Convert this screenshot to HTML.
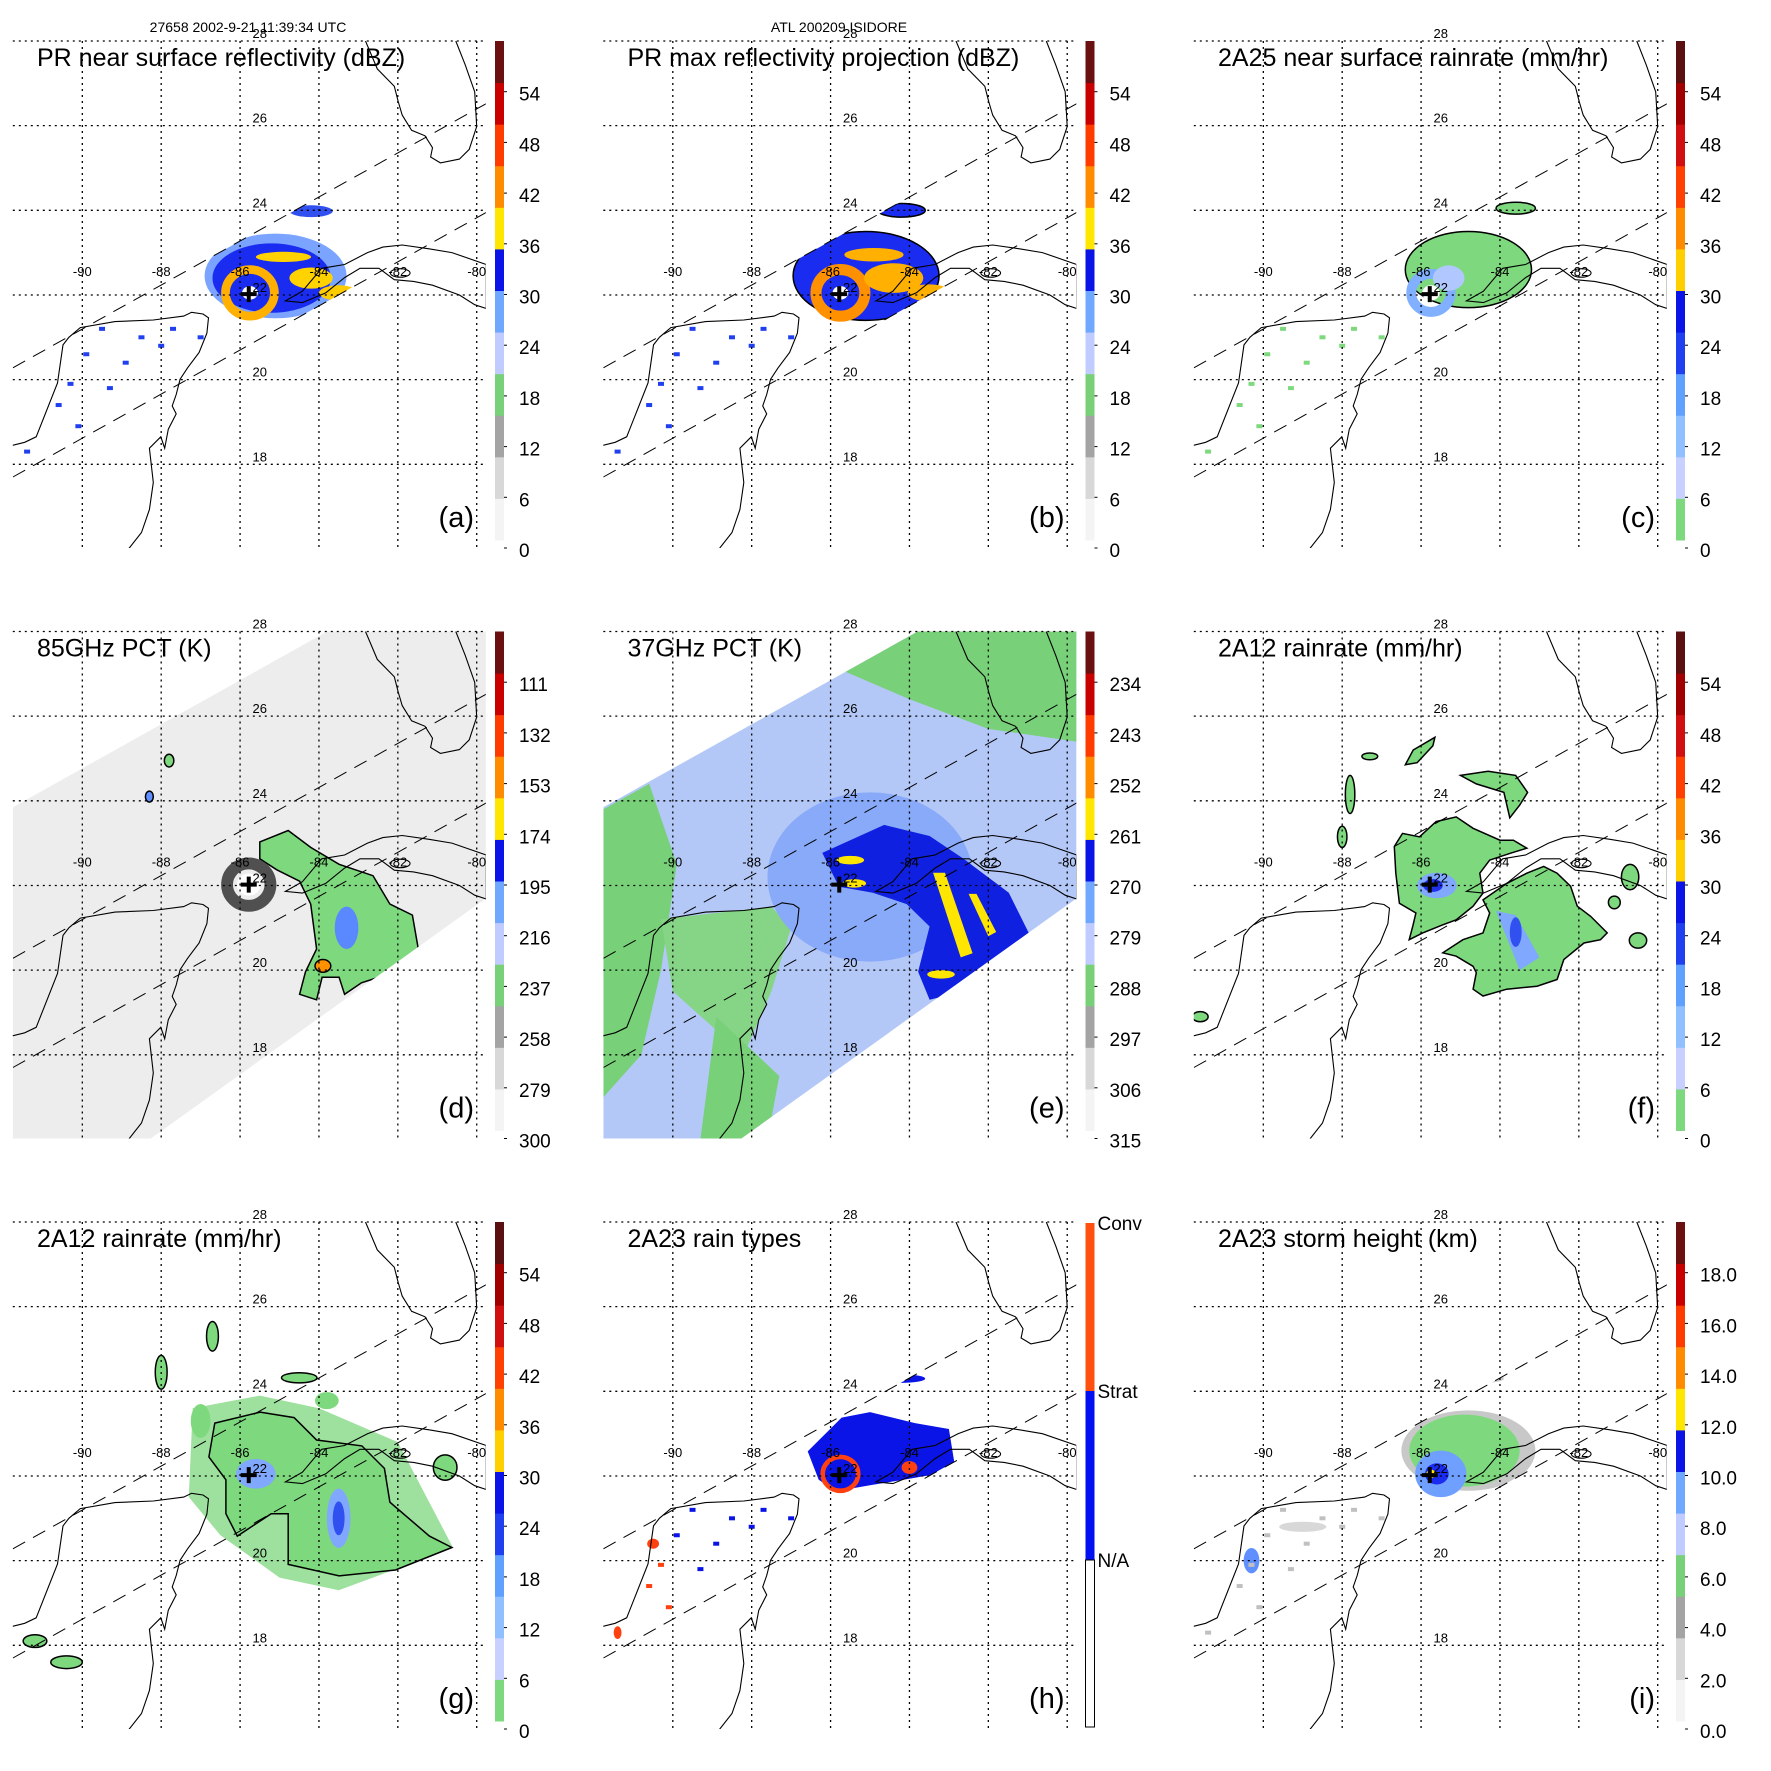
<!DOCTYPE html>
<html><head><meta charset="utf-8"><style>
html,body{margin:0;padding:0;background:#fff;}
svg{display:block;font-family:"Liberation Sans",sans-serif;}
</style></head><body>
<svg id="fig" width="1771" height="1771" viewBox="0 0 1771 1771" xmlns="http://www.w3.org/2000/svg">
<text x="248" y="32" font-size="14" text-anchor="middle">27658 2002-9-21 11:39:34 UTC</text>
<text x="839" y="32" font-size="14" text-anchor="middle">ATL 200209 ISIDORE</text>
</svg>
<script>
// ---------- data ----------
const titles = ["PR near surface reflectivity (dBZ)","PR max reflectivity projection (dBZ)","2A25 near surface rainrate (mm/hr)","85GHz PCT (K)","37GHz PCT (K)","2A12 rainrate (mm/hr)","2A12 rainrate (mm/hr)","2A23 rain types","2A23 storm height (km)"];
const letters = ["(a)","(b)","(c)","(d)","(e)","(f)","(g)","(h)","(i)"];
const ticksDbz = ["0","6","12","18","24","30","36","42","48","54"];
const ticksRain = ["0","6","12","18","24","30","36","42","48","54"];
const ticks85 = ["300","279","258","237","216","195","174","153","132","111"];
const ticks37 = ["315","306","297","288","279","270","261","252","243","234"];
const ticksHgt = ["0.0","2.0","4.0","6.0","8.0","10.0","12.0","14.0","16.0","18.0"];
const rainTypeLabels = ["N/A","Strat","Conv"];
const palA = ['#f4f4f4','#d8d8d8','#a4a4a4','#78d078','#c0ccff','#70a8ff','#0a14e6','#ffe600','#ff8c00','#ff3c00','#c80000','#6a1010'];
const palC = ['#7ed87e','#c8d0ff','#90c0ff','#60a0ff','#2040f0','#0a14e6','#ffd000','#ff8c00','#ff4000','#d01010','#a00000','#5a1010'];
const latLines = [18,20,22,24,26,28];
const lonLines = [-90,-88,-86,-84,-82,-80];
const stormCenter = [-85.78,22.02];
const florida = [[-82.82,28.0],[-82.52,27.34],[-82.09,26.93],[-81.99,26.57],[-81.89,26.25],[-81.65,25.89],[-81.31,25.76],[-81.12,25.48],[-81.17,25.26],[-80.92,25.12],[-80.44,25.21],[-80.19,25.44],[-80.0,25.98],[-80.05,26.8],[-80.29,27.43],[-80.53,28.0]];
const cuba = [[-84.85,21.86],[-84.42,22.09],[-83.93,22.63],[-83.35,22.72],[-82.77,23.0],[-82.38,23.13],[-81.89,23.18],[-81.21,23.09],[-80.63,23.0],[-79.76,22.72],[-79.76,21.68],[-80.05,21.77],[-80.44,22.0],[-81.12,22.23],[-81.6,22.32],[-82.09,22.36],[-82.48,22.63],[-82.96,22.63],[-83.35,22.41],[-83.83,22.05],[-84.42,21.82]];
const yucatan = [[-91.77,18.45],[-91.46,18.52],[-91.17,18.65],[-90.63,19.92],[-90.49,20.82],[-90.34,21.0],[-90.05,21.23],[-89.17,21.37],[-88.2,21.41],[-87.43,21.5],[-87.23,21.59],[-86.94,21.55],[-86.8,21.46],[-86.84,21.1],[-87.04,20.64],[-87.33,20.28],[-87.52,20.01],[-87.62,19.65],[-87.72,19.38],[-87.62,19.19],[-87.82,18.83],[-87.91,18.38],[-88.01,18.65],[-88.3,18.38],[-88.2,17.57],[-88.3,16.93],[-88.5,16.39],[-88.83,16.0]];
const swathUpper = [[-91.76,20.28],[-79.76,26.52]];
const swathLower = [[-91.76,17.70],[-79.76,23.95]];
const tmiSwath = [[-91.76,23.85],[-79.76,30.1],[-79.76,21.7],[-88.3,16.0],[-91.76,16.0]];
const dotsYuc = [[-89.5,21.2],[-88.5,21.0],[-87.7,21.2],[-90.3,19.9],[-89.3,19.8],[-90.1,18.9],[-91.4,18.3],[-87.0,21.0],[-88.9,20.4],[-89.9,20.6],[-90.6,19.4],[-88.0,20.8]];
const fieldA = [['e',-85.1,22.45,1.8,1.0,'#7aa4ff'],['e',-85.2,22.4,1.5,0.82,'#1a2cf0'],['e',-84.2,23.98,0.55,0.14,'#3050f0'],['r',-85.75,22.05,0.62,0.55,'#ffb000',0.22],['e',-84.2,22.4,0.55,0.25,'#ffd200'],['e',-83.5,22.05,0.5,0.18,'#ffcc00'],['e',-84.9,22.9,0.7,0.12,'#ffd200'],['e',-85.75,22.05,0.2,0.16,'#ffffff']];
const fieldB = [['e',-85.1,22.45,1.85,1.05,'#1a2cf0','#000'],['e',-84.2,24.0,0.6,0.16,'#1a2cf0','#000'],['r',-85.75,22.05,0.62,0.55,'#ff9000',0.28],['e',-84.4,22.4,0.75,0.35,'#ffb000'],['e',-83.5,22.05,0.55,0.2,'#ffb000'],['e',-84.9,22.95,0.75,0.16,'#ffb000'],['e',-85.75,22.05,0.2,0.16,'#ffffff']];
const fieldC = [['e',-84.8,22.6,1.6,0.9,'#7ed87e','#000'],['e',-85.3,23.9,0.3,0.12,'#7ed87e','#000'],['e',-83.6,24.05,0.5,0.14,'#7ed87e','#000'],['r',-85.75,22.05,0.5,0.45,'#80b0ff',0.25],['e',-85.75,22.05,0.22,0.18,'#ffffff'],['e',-85.3,22.4,0.4,0.3,'#b0c8ff']];
const fieldD = [['p','#7ed87e','#000',[[-85.5,23.03],[-84.78,23.3],[-84.21,22.9],[-83.49,22.5],[-82.63,22.23],[-82.2,21.56],[-81.63,21.3],[-81.48,20.5],[-82.06,19.96],[-82.92,19.7],[-83.35,19.43],[-83.49,19.83],[-83.92,19.83],[-84.06,19.3],[-84.49,19.43],[-84.34,19.96],[-84.06,20.5],[-84.21,21.56],[-84.49,22.1],[-85.07,22.37],[-85.5,22.63]]],['r',-85.78,22.02,0.55,0.5,'#505050',0.3],['e',-85.78,22.02,0.3,0.26,'#ffffff'],['e',-83.3,21.0,0.3,0.5,'#5a88ff'],['e',-87.8,24.95,0.12,0.15,'#7ed87e','#000'],['e',-88.3,24.1,0.1,0.13,'#6090ff','#000'],['e',-83.9,20.1,0.2,0.15,'#ff9000','#000']];
const fieldE = [['p','#78d078','',[[-91.76,23.8],[-90.6,24.4],[-89.9,22.5],[-90.3,20],[-90.8,18],[-91.76,17]]],['p','#86d486','',[[-90.3,21.2],[-87.5,21.5],[-87.0,21.0],[-87.5,19.5],[-88.2,18.0],[-90.0,19.5]]],['p','#78d078','',[[-86.5,28],[-79.76,28],[-79.76,25.4],[-82,25.7],[-84,26.4],[-86,27.2]]],['p','#78d078','',[[-88.9,18.9],[-87.3,17.5],[-87.6,16],[-89.3,16]]],['e',-85.0,22.2,2.6,2.0,'#88aaf8'],['p','#1020e0','',[[-86.21,22.77],[-84.64,23.43],[-83.49,23.17],[-82.63,22.63],[-81.48,21.83],[-80.91,20.76],[-81.2,19.96],[-82.06,19.7],[-82.92,19.43],[-83.49,19.3],[-83.78,19.96],[-83.49,21.03],[-84.07,21.56],[-84.93,21.83],[-85.79,21.97]]],['e',-85.5,22.6,0.35,0.1,'#ffe600'],['e',-85.4,22.05,0.3,0.1,'#ffe600'],['p','#ffe600','',[[-83.4,22.3],[-83.1,22.3],[-82.4,20.4],[-82.7,20.3]]],['p','#ffe600','',[[-82.5,21.8],[-82.3,21.8],[-81.8,20.9],[-82.0,20.8]]],['e',-83.2,19.9,0.35,0.1,'#ffe600']];
const fieldF = [['p','#7ed87e','#000',[[-86.68,22.92],[-86.47,23.23],[-86.04,23.15],[-85.62,23.51],[-85.11,23.62],[-84.68,23.35],[-84.0,23.07],[-83.66,23.07],[-83.32,22.88],[-83.74,22.76],[-84.26,22.6],[-84.51,22.29],[-84.43,21.82],[-84.68,21.51],[-85.11,21.19],[-85.45,21.07],[-85.96,20.88],[-86.3,20.72],[-86.21,21.04],[-86.13,21.35],[-86.55,21.58],[-86.64,22.29]]],['p','#7ed87e','#000',[[-84.43,21.66],[-83.83,22.05],[-83.32,22.29],[-82.89,22.45],[-82.55,22.29],[-82.21,21.98],[-82.04,21.51],[-81.7,21.27],[-81.28,20.88],[-81.45,20.72],[-81.87,20.64],[-82.38,20.25],[-82.55,19.78],[-83.06,19.62],[-83.83,19.55],[-84.43,19.39],[-84.68,19.55],[-84.6,19.94],[-84.68,20.09],[-85.11,20.33],[-85.45,20.41],[-84.94,20.72],[-84.43,20.88],[-84.26,21.35]]],['e',-85.6,22.0,0.5,0.3,'#80a8ff'],['e',-85.7,22.0,0.25,0.15,'#2030e8'],['p','#80a8ff','',[[-84.1,21.4],[-83.6,21.3],[-83.0,20.3],[-83.5,20.0]]],['e',-83.6,20.9,0.15,0.35,'#3050f0'],['p','#7ed87e','#000',[[-86.4,24.85],[-86.2,25.2],[-85.65,25.5],[-85.7,25.3],[-86.1,24.9]]],['e',-87.3,25.05,0.2,0.08,'#7ed87e','#000'],['e',-87.8,24.15,0.12,0.45,'#7ed87e','#000'],['e',-88.0,23.15,0.12,0.25,'#7ed87e','#000'],['p','#7ed87e','#000',[[-85.0,24.6],[-84.3,24.7],[-83.6,24.6],[-83.3,24.2],[-83.5,23.9],[-83.75,23.6],[-83.9,24.2],[-84.6,24.4]]],['e',-80.7,22.2,0.22,0.3,'#7ed87e','#000'],['e',-80.5,20.7,0.22,0.18,'#7ed87e','#000'],['e',-81.1,21.6,0.15,0.15,'#7ed87e','#000'],['e',-91.6,18.9,0.2,0.12,'#7ed87e','#000']];
const fieldG = [['p','#9ee09e','',[[-87.2,23.6],[-85.5,23.9],[-84.0,23.6],[-82.0,22.8],[-80.6,20.3],[-83.5,19.3],[-85.0,19.6],[-86.5,20.6],[-87.3,21.5]]],['p','#7ed87e','#000',[[-86.64,23.25],[-85.49,23.51],[-84.63,23.38],[-84.06,22.85],[-82.91,22.71],[-82.34,22.18],[-82.2,21.38],[-81.2,20.58],[-80.63,20.31],[-82.06,19.78],[-83.49,19.64],[-84.78,19.91],[-84.78,21.11],[-85.21,21.11],[-86.07,20.58],[-86.36,21.11],[-86.36,21.91],[-86.79,22.45]]],['e',-85.6,22.05,0.5,0.35,'#80a8ff'],['e',-83.5,21.0,0.3,0.7,'#80a8ff'],['e',-83.5,21.0,0.15,0.4,'#3050f0'],['e',-88.0,24.45,0.15,0.4,'#7ed87e','#000'],['e',-86.7,25.3,0.15,0.35,'#7ed87e','#000'],['e',-84.5,24.32,0.45,0.12,'#7ed87e','#000'],['e',-83.8,23.78,0.3,0.2,'#7ed87e'],['e',-80.8,22.2,0.3,0.3,'#7ed87e','#000'],['e',-90.4,17.6,0.4,0.15,'#7ed87e','#000'],['e',-91.2,18.1,0.3,0.15,'#7ed87e','#000'],['e',-87.0,23.3,0.25,0.4,'#7ed87e']];
const fieldH = [['p','#0a14e6','',[[-86.58,22.58],[-85.72,23.38],[-85.0,23.51],[-83.86,23.25],[-83.0,23.11],[-82.86,22.31],[-83.29,22.05],[-84.15,21.91],[-85.0,21.78],[-85.87,21.64],[-86.3,21.91]]],['e',-84.2,24.3,0.6,0.1,'#0a14e6'],['r',-85.75,22.05,0.45,0.4,'#ff4010',0.12],['e',-84.0,22.2,0.2,0.15,'#ff4010'],['e',-90.5,20.4,0.15,0.12,'#ff4010'],['e',-91.4,18.3,0.1,0.15,'#ff4010']];
const fieldI = [['e',-84.8,22.6,1.7,0.95,'#c8c8c8'],['e',-84.9,22.6,1.4,0.85,'#7ed87e'],['e',-85.5,22.05,0.65,0.55,'#70a0ff'],['e',-85.6,22.05,0.3,0.25,'#1a2cf0'],['e',-85.75,22.05,0.12,0.1,'#ffe600'],['e',-84.4,24.3,0.5,0.1,'#c8c8c8'],['e',-89.0,20.8,0.6,0.12,'#d8d8d8'],['e',-90.3,20.0,0.2,0.3,'#6090ff']];
const fields = [fieldA,fieldB,fieldC,fieldD,fieldE,fieldF,fieldG,fieldH,fieldI];
const tickSets = [ticksDbz,ticksDbz,ticksRain,ticks85,ticks37,ticksRain,ticksRain,null,ticksHgt];
const palettes = [palA,palA,palC,palA,palA,palC,palC,null,palA];
const swathType = ['pr','pr','pr','tmi','tmi','none','none','pr','pr'];
const dotFields = [true,true,true,false,false,false,false,true,true];

// ---------- drawing ----------
const NS = "http://www.w3.org/2000/svg";
const svg = document.getElementById('fig');
function mk(tag, attrs, parent){
  const el = document.createElementNS(NS, tag);
  for (const k in attrs) el.setAttribute(k, attrs[k]);
  (parent||svg).appendChild(el);
  return el;
}
const LON0=-91.76, LAT0=28, SX=39.44, SY=42.33, PITCH=590.5;
for (let p=0;p<9;p++){
  const col=p%3,row=Math.floor(p/3);
  const OX=col*PITCH, OY=row*PITCH;
  const X=lon=>OX+12.9+(lon-LON0)*SX;
  const Y=lat=>OY+41+(LAT0-lat)*SY;
  const pts=a=>a.map(q=>X(q[0]).toFixed(1)+','+Y(q[1]).toFixed(1)).join(' ');
  const g = mk('g',{});
  
  
  const cid='clip'+p;
  const defs=mk('defs',{},g);
  const cp=mk('clipPath',{id:cid},defs);
  mk('rect',{x:OX+12.8,y:OY+41,width:473,height:507},cp);
  const sid='sw'+p;
  const sp=mk('clipPath',{id:sid},defs);
  if (swathType[p]==='tmi') mk('polygon',{points:pts(tmiSwath)},sp);
  else mk('polygon',{points:pts([swathUpper[0],swathUpper[1],swathLower[1],swathLower[0]])},sp);
  const mapG=mk('g',{'clip-path':'url(#'+cid+')'},g);
  
  
  if (swathType[p]==='tmi'){
    const sw=mk('polygon',{points:pts(tmiSwath),fill:p===3?'#ededed':'#b4c8f8'},mapG);
    
    
  }
  const fg = mk('g', swathType[p]!=='none'?{'clip-path':'url(#'+sid+')'}:{}, mapG);
  
  
  for (const s of fields[p]){
    let el;
    if (s[0]==='e'){
      el=mk('ellipse',{cx:X(s[1]),cy:Y(s[2]),rx:s[3]*SX,ry:s[4]*SY,fill:s[5],stroke:s[6]||'none','stroke-width':1.5},fg);
    } else if (s[0]==='r'){
      el=mk('ellipse',{cx:X(s[1]),cy:Y(s[2]),rx:s[3]*SX,ry:s[4]*SY,fill:'none',stroke:s[5],'stroke-width':s[6]*SX},fg);
    } else {
      el=mk('polygon',{points:pts(s[3]),fill:s[1],stroke:s[2]||'none','stroke-width':1.5},fg);
    }
    
    
  }
  if (dotFields[p]){
    for (const d of dotsYuc){
      const c = p===7?(d[0]<-90?'#ff4010':'#0a14e6'):(p===2?'#7ed87e':(p===8?'#c0c0c0':'#2040f0'));
      const el=mk('rect',{x:X(d[0])-3,y:Y(d[1])-2,width:6,height:4,fill:c},fg);
      
      
    }
  }
  for (const [nm,c,closed] of [['florida-coast',florida,false],['cuba-coast',cuba,true],['yucatan-coast',yucatan,false]]){
    const el=mk(closed?'polygon':'polyline',{points:pts(c),fill:'none',stroke:'#000','stroke-width':1.1},mapG);
    
    
  }
  const isle=mk('ellipse',{cx:X(-81.94),cy:Y(22.52),rx:0.25*SX,ry:0.1*SY,fill:'none',stroke:'#000','stroke-width':1.1},mapG);
  
  
  for (const L of [swathUpper,swathLower]){
    const el=mk('line',{x1:X(L[0][0]),y1:Y(L[0][1]),x2:X(L[1][0]),y2:Y(L[1][1]),stroke:'#000','stroke-width':1,'stroke-dasharray':'14,9'},mapG);
    
    
  }
  for (const la of latLines){
    const el=mk('line',{x1:OX+12.8,x2:OX+486,y1:Y(la),y2:Y(la),stroke:'#000','stroke-width':1.3,'stroke-dasharray':'2,4'},g);
    
    
    const t=mk('text',{x:X(-85.5),y:Y(la)-3,'font-size':13,'text-anchor':'middle'},g);
    t.textContent=la;
    
    
  }
  for (const lo of lonLines){
    const el=mk('line',{x1:X(lo),x2:X(lo),y1:OY+41,y2:OY+548,stroke:'#000','stroke-width':1.3,'stroke-dasharray':'2,4'},g);
    
    
    const t=mk('text',{x:X(lo),y:Y(22.45),'font-size':13,'text-anchor':'middle'},g);
    t.textContent=lo;
    
    
  }
  const cx=X(stormCenter[0]),cy=Y(stormCenter[1]);
  const cm=mk('path',{d:`M${cx-8},${cy}H${cx+8}M${cx},${cy-8}V${cy+8}`,stroke:'#000','stroke-width':4},g);
  
  
  const tt=mk('text',{x:OX+37,y:OY+66,'font-size':25},g);
  tt.textContent=titles[p];
  
  
  const lt=mk('text',{x:OX+474,y:OY+527,'font-size':29,'text-anchor':'end'},g);
  lt.textContent=letters[p];
  
  
  const cb=mk('g',{},g);
  
  
  if (p===7){
    const segs=[['#ff5010',42,210],['#0010f0',210,379],['#ffffff',379,546]];
    for (const s of segs){
      const r=mk('rect',{x:OX+495,y:OY+s[1],width:9,height:s[2]-s[1],fill:s[0],stroke:s[0]==='#ffffff'?'#000':'none','stroke-width':1},cb);
      
      
    }
    const ly=[379,210,42];
    rainTypeLabels.forEach((lab,i)=>{
      const t=mk('text',{x:OX+507,y:OY+ly[i]+7,'font-size':19},cb);
      t.textContent=lab;
      
      
    });
  } else {
    const pal=palettes[p], n=pal.length, top=OY+41, h=499/n;
    pal.forEach((c,i)=>{
      const r=mk('rect',{x:OX+495,y:top+(n-1-i)*h,width:9,height:h+0.5,fill:c},cb);
      
      
    });
    tickSets[p].forEach((lab,i)=>{
      const yy=OY+550-i*50.7;
      const tk=mk('line',{x1:OX+504,x2:OX+507,y1:yy-2,y2:yy-2,stroke:'#000'},cb);
      
      
      const t=mk('text',{x:OX+519,y:yy+7,'font-size':19},cb);
      t.textContent=lab;
      
      
    });
  }
}
</script>
</body></html>
